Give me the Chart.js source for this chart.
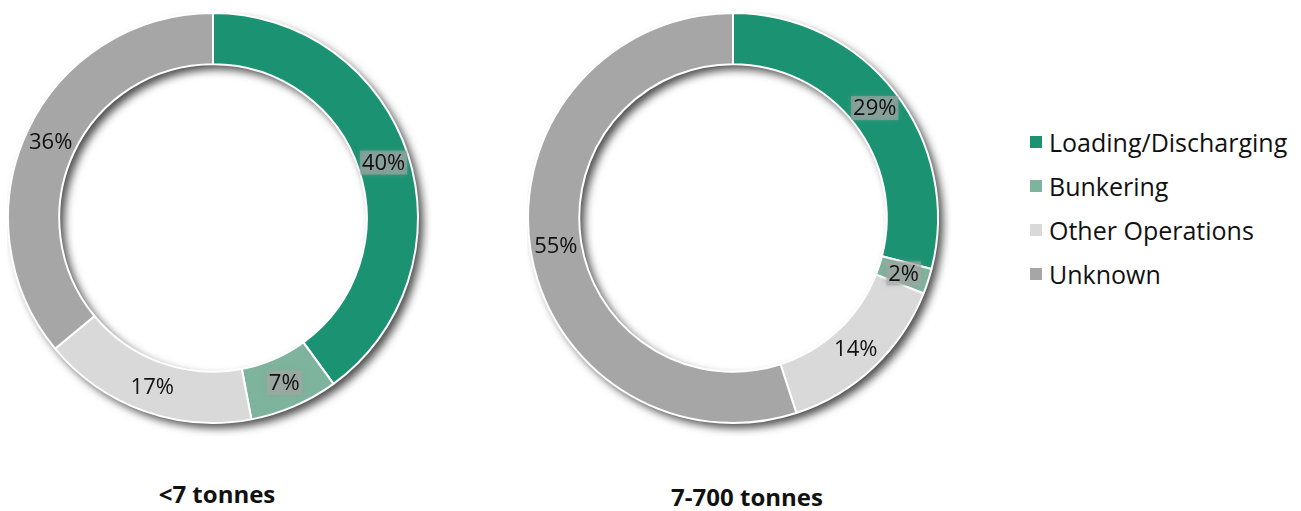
<!DOCTYPE html>
<html>
<head>
<meta charset="utf-8">
<script src="https://cdn.jsdelivr.net/npm/chart.js@4.4.0/dist/chart.umd.min.js"></script>
<style>
  body { margin: 0; background: #fff; font-family: "Open Sans", sans-serif; }
  .wrap { position: relative; width: 1301px; height: 511px; }
  .box { position: absolute; }
  .title { position: absolute; font-weight: bold; font-size: 24px; line-height: 30px; color: #111; transform: translateX(-50%); white-space: nowrap; }
  #legend { position: absolute; left: 1030px; top: 120px; }
  #legend div { height: 44px; line-height: 44px; font-size: 25px; color: #111; display: flex; align-items: center; white-space: nowrap; }
  #legend span.sw { display: inline-block; width: 12px; height: 12px; margin: 0 7px 0 0; }
</style>
</head>
<body>
<div class="wrap">
  <div class="box" style="left:7px;top:12px;width:424px;height:424px"><canvas id="small"></canvas></div>
  <div class="box" style="left:527px;top:12px;width:424px;height:424px"><canvas id="medium"></canvas></div>
  <div class="title" style="left:217px;top:479px">&lt;7 tonnes</div>
  <div class="title" style="left:747px;top:482px">7-700 tonnes</div>
  <div id="legend"></div>
</div>
<script>
const categories = ['Loading/Discharging', 'Bunkering', 'Other Operations', 'Unknown'];
const smallSpills = [40, 7, 17, 36];
const mediumSpills = [29, 2, 14, 55];
const colors = ['#1b9373', '#7eb49d', '#d9d9d9', '#a6a6a6'];
const glowLabels = [true, true, false, false];

// soft drop shadow under the whole ring
const ringShadow = {
    id: 'ringShadow',
    beforeDatasetsDraw(chart) {
        const arc = chart.getDatasetMeta(0).data[0];
        if (!arc) return;
        const ctx = chart.ctx;
        ctx.save();
        ctx.shadowColor = 'rgba(0,0,0,0.7)';
        ctx.shadowBlur = 8;
        ctx.shadowOffsetX = 5;
        ctx.shadowOffsetY = 5;
        ctx.fillStyle = '#ffffff';
        ctx.beginPath();
        ctx.arc(arc.x, arc.y, arc.outerRadius, 0, Math.PI * 2);
        ctx.arc(arc.x, arc.y, arc.innerRadius, 0, Math.PI * 2, true);
        ctx.fill();
        ctx.restore();
    }
};

// percentage labels in the middle of each slice
const sliceLabels = {
    id: 'sliceLabels',
    afterDatasetsDraw(chart) {
        const ctx = chart.ctx;
        const values = chart.data.datasets[0].data;
        ctx.save();
        ctx.font = '22px "Open Sans"';
        ctx.textAlign = 'center';
        ctx.textBaseline = 'middle';
        chart.getDatasetMeta(0).data.forEach((arc, i) => {
            const p = arc.tooltipPosition();
            const txt = values[i] + '%';
            if (glowLabels[i]) {
                const w = ctx.measureText(txt).width + 4;
                ctx.save();
                ctx.fillStyle = 'rgba(165,168,166,0.6)';
                ctx.shadowColor = 'rgba(150,150,150,0.9)';
                ctx.shadowBlur = 5;
                ctx.fillRect(p.x - w / 2, p.y - 12, w, 24);
                ctx.restore();
            }
            ctx.fillStyle = '#111';
            ctx.fillText(txt, p.x, p.y + 1);
        });
        ctx.restore();
    }
};

function makeRing(id, values) {
    return new Chart(document.getElementById(id), {
        type: 'doughnut',
        data: {
            labels: categories,
            datasets: [{
                data: values,
                backgroundColor: colors,
                borderColor: '#ffffff',
                borderWidth: 2
            }]
        },
        options: {
            responsive: true,
            maintainAspectRatio: false,
            animation: false,
            cutout: '75%',
            layout: { padding: { right: 12, bottom: 12 } },
            plugins: { legend: { display: false }, tooltip: { enabled: false } }
        },
        plugins: [ringShadow, sliceLabels]
    });
}

makeRing('small', smallSpills);
makeRing('medium', mediumSpills);

const legend = document.getElementById('legend');
categories.forEach((c, i) => {
    const row = document.createElement('div');
    row.innerHTML = '<span class="sw" style="background:' + colors[i] + '"></span>' + c;
    legend.appendChild(row);
});
</script>
</body>
</html>
